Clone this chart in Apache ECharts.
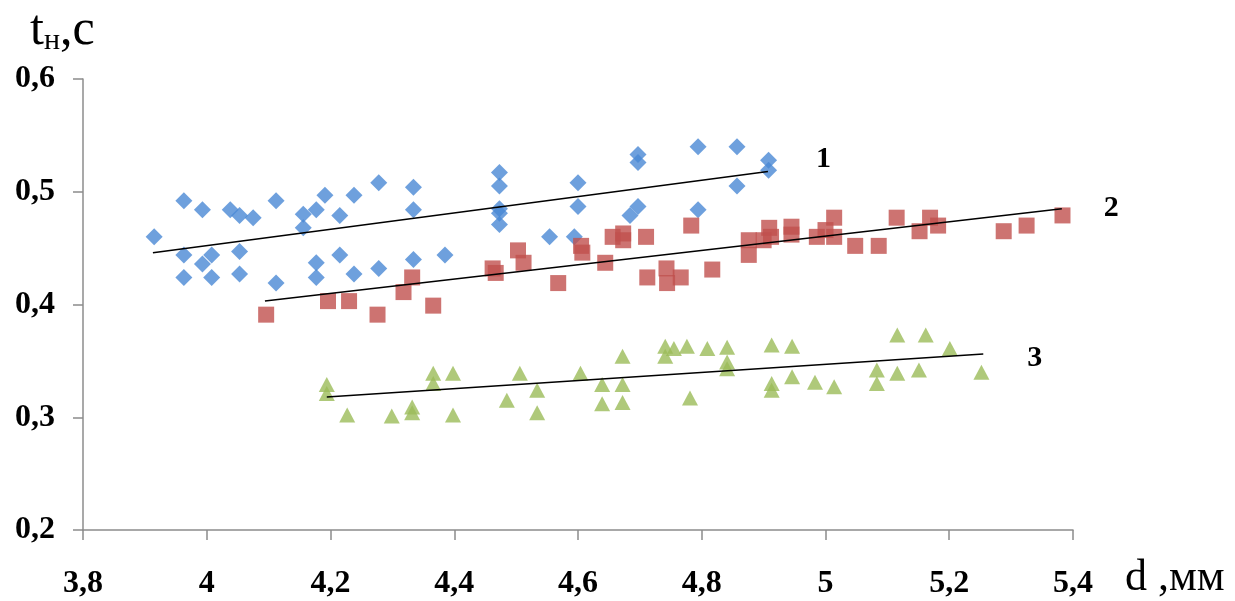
<!DOCTYPE html>
<html lang="ru">
<head>
<meta charset="utf-8" />
<title>t(d)</title>
<style>
  html, body { margin: 0; padding: 0; background: #fff; }
  #chart { width: 1235px; height: 601px; }
</style>
</head>
<body>
<div id="chart"></div>
<script src="https://cdn.jsdelivr.net/npm/echarts@6/dist/echarts.min.js"></script>
<script>
// series 1 (blue diamonds): [d, t]
const series1 = [
  [3.915, 0.460], [3.963, 0.492], [3.993, 0.484], [4.038, 0.484], [4.053, 0.479],
  [4.075, 0.477], [4.112, 0.492], [4.156, 0.480], [4.156, 0.468], [4.177, 0.484],
  [4.191, 0.497], [4.215, 0.479], [4.238, 0.497], [4.278, 0.508], [4.334, 0.504],
  [4.334, 0.484], [3.963, 0.444], [4.008, 0.444], [3.993, 0.436], [4.053, 0.447],
  [3.963, 0.424], [4.008, 0.424], [4.053, 0.427], [4.112, 0.419], [4.177, 0.437],
  [4.177, 0.424], [4.215, 0.444], [4.238, 0.427], [4.278, 0.432], [4.334, 0.440],
  [4.385, 0.444], [4.473, 0.517], [4.473, 0.505], [4.473, 0.485], [4.473, 0.481],
  [4.473, 0.471], [4.554, 0.460], [4.594, 0.460], [4.600, 0.508], [4.600, 0.487],
  [4.684, 0.479], [4.697, 0.487], [4.697, 0.533], [4.697, 0.526], [4.794, 0.540],
  [4.794, 0.484], [4.857, 0.540], [4.857, 0.505], [4.908, 0.528], [4.908, 0.519]
];
// series 2 (red squares)
const series2 = [
  [4.096, 0.391], [4.196, 0.403], [4.230, 0.403], [4.276, 0.391], [4.318, 0.411],
  [4.332, 0.424], [4.366, 0.399], [4.462, 0.432], [4.467, 0.428], [4.503, 0.448],
  [4.512, 0.437], [4.568, 0.419], [4.605, 0.452], [4.607, 0.446], [4.644, 0.437],
  [4.656, 0.460], [4.673, 0.463], [4.673, 0.457], [4.710, 0.460], [4.712, 0.424],
  [4.743, 0.432], [4.744, 0.419], [4.766, 0.424], [4.783, 0.470], [4.817, 0.431],
  [4.876, 0.457], [4.876, 0.444], [4.900, 0.457], [4.909, 0.468], [4.912, 0.460],
  [4.945, 0.462], [4.945, 0.469], [4.986, 0.460], [5.000, 0.466], [5.014, 0.477],
  [5.014, 0.460], [5.048, 0.452], [5.086, 0.452], [5.115, 0.477], [5.152, 0.465],
  [5.169, 0.477], [5.182, 0.470], [5.288, 0.465], [5.325, 0.470], [5.383, 0.479]
];
// series 3 (green triangles)
const series3 = [
  [4.194, 0.329], [4.194, 0.321], [4.227, 0.302], [4.299, 0.301], [4.332, 0.309],
  [4.332, 0.304], [4.366, 0.339], [4.366, 0.330], [4.398, 0.339], [4.398, 0.302],
  [4.485, 0.315], [4.506, 0.339], [4.534, 0.324], [4.534, 0.304], [4.604, 0.339],
  [4.639, 0.329], [4.639, 0.312], [4.672, 0.354], [4.672, 0.329], [4.672, 0.313],
  [4.741, 0.363], [4.741, 0.354], [4.755, 0.361], [4.776, 0.363], [4.809, 0.361],
  [4.841, 0.362], [4.841, 0.349], [4.841, 0.343], [4.781, 0.317], [4.913, 0.364],
  [4.913, 0.330], [4.913, 0.324], [4.946, 0.363], [4.946, 0.336], [4.983, 0.331],
  [5.014, 0.327], [5.083, 0.342], [5.083, 0.330], [5.116, 0.339], [5.116, 0.373],
  [5.151, 0.342], [5.162, 0.373], [5.201, 0.361], [5.252, 0.340]
];
// trend lines (start, end)
const trend1 = [[3.913, 0.446], [4.907, 0.518]];
const trend2 = [[4.094, 0.403], [5.382, 0.485]];
const trend3 = [[4.194, 0.318], [5.255, 0.356]];
const lineNames = ['1', '2', '3'];

const serif = '"Liberation Serif", "DejaVu Serif", serif';
const fmt = v => String(+v.toFixed(1)).replace('.', ',');
const chart = echarts.init(document.getElementById('chart'));

function trendSeries(data, name, offset) {
  return {
    type: 'line',
    data: data,
    symbol: 'none',
    silent: true,
    z: 3,
    lineStyle: { color: '#000', width: 1.5 },
    endLabel: {
      show: true,
      formatter: name,
      distance: 0,
      offset: offset,
      color: '#000',
      fontFamily: serif,
      fontWeight: 'bold',
      fontSize: 30
    }
  };
}

chart.setOption({
  animation: false,
  grid: { left: 83, right: 162, top: 79, bottom: 71 },
  xAxis: {
    type: 'value',
    min: 3.8, max: 5.4, interval: 0.2,
    splitLine: { show: false },
    axisLine: { onZero: false, lineStyle: { color: '#8c8c8c', width: 1.5 } },
    axisTick: { length: 10, lineStyle: { color: '#8c8c8c', width: 1.5 } },
    axisLabel: {
      margin: 38, color: '#000', fontFamily: serif, fontWeight: 'bold', fontSize: 32,
      formatter: fmt
    }
  },
  yAxis: {
    type: 'value',
    min: 0.2, max: 0.6, interval: 0.1,
    splitLine: { show: false },
    axisLine: { show: true, onZero: false, lineStyle: { color: '#8c8c8c', width: 1.5 } },
    axisTick: { show: true, length: 10, lineStyle: { color: '#8c8c8c', width: 1.5 } },
    axisLabel: {
      margin: 28, color: '#000', fontFamily: serif, fontWeight: 'bold', fontSize: 32,
      formatter: fmt
    }
  },
  graphic: [
    {
      type: 'text', left: 30, top: 6,
      style: {
        text: '{a|t}{b|н}{a|,с}',
        rich: {
          a: { fontFamily: serif, fontSize: 50, fill: '#000', verticalAlign: 'bottom' },
          b: { fontFamily: serif, fontSize: 30, fill: '#000', verticalAlign: 'bottom' }
        }
      }
    },
    {
      type: 'text', left: 1125, top: 556,
      style: { text: 'd ,мм', fontFamily: serif, fontSize: 44, fill: '#000' }
    }
  ],
  series: [
    {
      type: 'scatter', data: series1, symbol: 'diamond', symbolSize: [17, 17],
      itemStyle: { color: '#4a88d4' }, z: 2
    },
    {
      type: 'scatter', data: series2, symbol: 'rect', symbolSize: [16, 16],
      itemStyle: { color: '#c0504d' }, z: 2
    },
    {
      type: 'scatter', data: series3, symbol: 'triangle', symbolSize: [16, 15],
      itemStyle: { color: '#9bbb59' }, z: 2
    },
    trendSeries(trend1, lineNames[0], [48, -12]),
    trendSeries(trend2, lineNames[1], [42, 0]),
    trendSeries(trend3, lineNames[2], [44, 4])
  ]
});
</script>
</body>
</html>
